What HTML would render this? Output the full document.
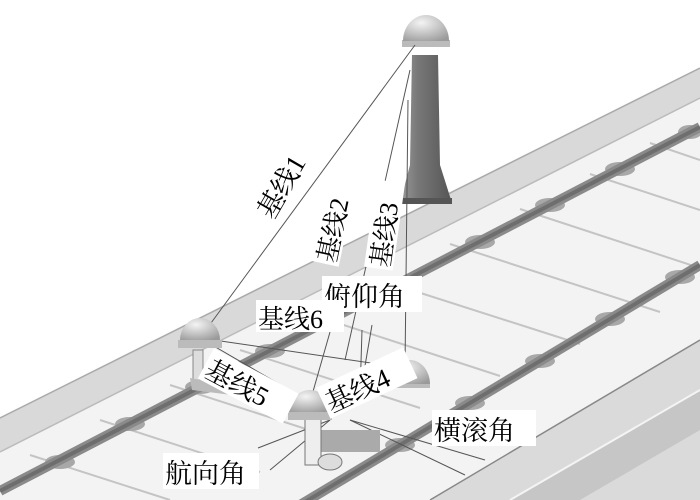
<!DOCTYPE html>
<html><head><meta charset="utf-8"><style>
html,body{margin:0;padding:0;background:#fff;width:700px;height:500px;overflow:hidden}
svg{display:block}
text{font-family:"Liberation Serif","Noto Serif CJK SC","Noto Sans CJK SC",serif;fill:#000}
</style></head><body>
<svg width="700" height="500" viewBox="0 0 700 500" xmlns="http://www.w3.org/2000/svg">
<defs>
<linearGradient id="pole" x1="0" x2="1"><stop offset="0" stop-color="#999"/><stop offset=".35" stop-color="#777"/><stop offset="1" stop-color="#555"/></linearGradient>
<radialGradient id="dome" cx=".4" cy=".3" r=".8"><stop offset="0" stop-color="#f4f4f4"/><stop offset="1" stop-color="#9a9a9a"/></radialGradient>
</defs>
<!-- slab -->
<polygon points="0,418 700,68 700,500 0,500" fill="#f3f3f3"/>
<polygon points="0,418 700,68 700,98 0,452" fill="#d9d9d9"/>
<line x1="0" y1="418" x2="700" y2="68" stroke="#aaa" stroke-width="1.5"/>
<line x1="0" y1="452" x2="700" y2="98" stroke="#bbb" stroke-width="1.5"/>
<!-- sleepers -->
<g stroke="#c4c4c4" stroke-width="2">
<line x1="30" y1="455" x2="170" y2="500"/><line x1="100" y1="420" x2="260" y2="472"/>
<line x1="170" y1="385" x2="340" y2="440"/><line x1="240" y1="350" x2="420" y2="408"/>
<line x1="310" y1="314" x2="500" y2="376"/><line x1="380" y1="280" x2="580" y2="344"/>
<line x1="450" y1="244" x2="660" y2="312"/><line x1="520" y1="209" x2="700" y2="268"/>
<line x1="590" y1="174" x2="700" y2="210"/><line x1="650" y1="143" x2="700" y2="160"/>
</g>
<!-- fasteners on rails -->
<g fill="#a8a8a8">
<ellipse cx="60" cy="462" rx="15" ry="7"/><ellipse cx="130" cy="424" rx="15" ry="7"/>
<ellipse cx="200" cy="387" rx="15" ry="7"/><ellipse cx="270" cy="351" rx="15" ry="7"/>
<ellipse cx="480" cy="242" rx="15" ry="7"/><ellipse cx="550" cy="205" rx="15" ry="7"/>
<ellipse cx="620" cy="169" rx="15" ry="7"/><ellipse cx="690" cy="132" rx="12" ry="7"/>
<ellipse cx="400" cy="445" rx="15" ry="7"/><ellipse cx="470" cy="403" rx="15" ry="7"/>
<ellipse cx="540" cy="361" rx="15" ry="7"/><ellipse cx="610" cy="319" rx="15" ry="7"/>
<ellipse cx="680" cy="277" rx="15" ry="7"/>
</g>
<!-- rails -->
<line x1="0" y1="491" x2="700" y2="127" stroke="#8a8a8a" stroke-width="10"/>
<line x1="0" y1="491" x2="700" y2="127" stroke="#6e6e6e" stroke-width="4"/>
<line x1="300" y1="505" x2="700" y2="265" stroke="#8a8a8a" stroke-width="10"/>
<line x1="300" y1="505" x2="700" y2="265" stroke="#6e6e6e" stroke-width="4"/>
<!-- right slab edge -->
<polygon points="430,500 700,340 700,500" fill="#dadada"/>
<polygon points="510,500 700,390 700,430 580,500" fill="#c6c6c6"/>
<line x1="510" y1="500" x2="700" y2="390" stroke="#f4f4f4" stroke-width="2"/>
<line x1="430" y1="500" x2="700" y2="340" stroke="#888" stroke-width="1.5"/>
<!-- pole -->
<polygon points="400,203 452,203 440,165 438,55 412,55 410,165" fill="url(#pole)"/>
<rect x="400" y="198" width="52" height="6" fill="#555"/>
<rect x="402" y="40" width="48" height="7" fill="#bbb"/>
<path d="M403,41 A23,26 0 0 1 449,41 Z" fill="url(#dome)"/>
<!-- baselines -->
<g stroke="#555" stroke-width="1" fill="none">
<line x1="415" y1="45" x2="200" y2="338"/>
<line x1="410" y1="70" x2="345" y2="360"/>
<line x1="408" y1="100" x2="405" y2="368"/>
<line x1="200" y1="338" x2="405" y2="368"/>
<line x1="200" y1="338" x2="310" y2="402"/>
<line x1="310" y1="402" x2="405" y2="368"/>
<line x1="310" y1="402" x2="330" y2="332"/>
<line x1="360" y1="395" x2="362" y2="330"/>
<line x1="360" y1="395" x2="372" y2="325"/>
<line x1="350" y1="420" x2="485" y2="460"/>
<line x1="350" y1="420" x2="465" y2="475"/>
<line x1="330" y1="420" x2="258" y2="448"/>
<line x1="330" y1="420" x2="270" y2="470"/>
</g>
<!-- lower domes & device -->
<rect x="305" y="430" width="75" height="22" fill="#aaa"/>
<rect x="305" y="415" width="16" height="50" fill="#eee" stroke="#777"/>
<ellipse cx="330" cy="462" rx="12" ry="8" fill="#ddd" stroke="#777"/>
<rect x="193" y="350" width="10" height="30" fill="#ddd" stroke="#888"/>
<polygon points="190,378 230,385 232,395 192,390" fill="#bbb"/>
<rect x="178" y="340" width="44" height="8" fill="#bbb"/>
<path d="M180,340 A20,22 0 0 1 220,340 Z" fill="url(#dome)"/>
<rect x="390" y="382" width="40" height="6" fill="#bbb"/>
<path d="M390,384 A20,24 0 0 1 430,384 Z" fill="url(#dome)"/>
<rect x="288" y="412" width="44" height="8" fill="#bbb"/>
<path d="M289,412 A21,22 0 0 1 331,412 Z" fill="url(#dome)"/>
<!-- labels -->
<g>
<g transform="translate(287,178) rotate(-60)"><text x="-44" y="9" font-size="27">基线1</text></g>
<g transform="translate(340,222) rotate(-78)"><rect x="-44" y="-21" width="88" height="29" fill="#fff"/><text x="-42" y="4" font-size="26">基线2</text></g>
<g transform="translate(391,226) rotate(-82)"><rect x="-44" y="-21" width="88" height="29" fill="#fff"/><text x="-42" y="4" font-size="26">基线3</text></g>
<rect x="322" y="276" width="100" height="36" fill="#fff"/>
<text x="324" y="306" font-size="27">俯仰角</text>
<rect x="256" y="300" width="88" height="32" fill="#fff"/>
<text x="258" y="328" font-size="26">基线6</text>
<g transform="translate(245,390) rotate(28)"><rect x="-47" y="-22" width="96" height="34" fill="#fff"/><text x="-44" y="7" font-size="27">基线5</text></g>
<g transform="translate(368,388) rotate(-25)"><rect x="-47" y="-22" width="96" height="34" fill="#fff"/><text x="-44" y="7" font-size="27">基线4</text></g>
<rect x="432" y="410" width="104" height="36" fill="#fff"/>
<text x="434" y="440" font-size="27">横滚角</text>
<rect x="163" y="453" width="96" height="36" fill="#fff"/>
<text x="165" y="483" font-size="27">航向角</text>
</g>
</svg>
</body></html>
